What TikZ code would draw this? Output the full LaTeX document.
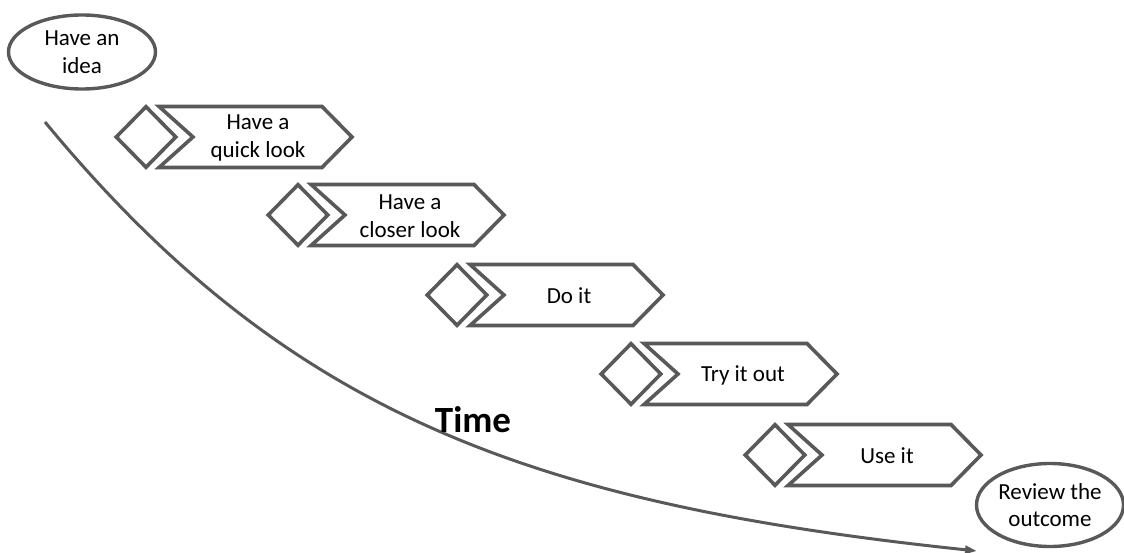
\documentclass[tikz,border=0pt]{standalone}
\usepackage{fontspec}
\setmainfont{Carlito}
\usetikzlibrary{arrows.meta,shapes.geometric}
\definecolor{outline}{RGB}{89,89,89}
\begin{document}
\begin{tikzpicture}[x=1pt,y=-1pt,
  shape line/.style={draw=outline,line width=3.6pt,line join=miter},
  bubble/.style={ellipse,draw=outline,line width=3.4pt,inner sep=0pt,
    align=center,font=\fontsize{23}{27.5}\selectfont},
  gem/.style={diamond,shape line,minimum width=61pt,minimum height=62pt,inner sep=0pt},
  steplabel/.style={align=center,font=\fontsize{23}{27.5}\selectfont,inner sep=0pt},
  timeline/.style={draw=outline,line width=3pt,-{Triangle[length=12pt,width=8pt]}}]
\useasboundingbox (0,0) rectangle (1124,553);

% start and end of the process
\node[bubble,minimum width=147pt,minimum height=74pt] (idea) at (82,52) {Have an\\idea};
\node[bubble,minimum width=147pt,minimum height=83pt] (review) at (1050,505) {Review the\\outcome};

% the five stages: a diamond followed by a chevron
\foreach \L/\C/\txt [count=\i] in {159/137/{Have a\\quick look},
                                   311/215/{Have a\\closer look},
                                   470/295/{Do it},
                                   644/374/{Try it out},
                                   788/455/{Use it}} {
  \node[gem] (gem\i) at (\L-13,\C) {};
  \draw[shape line] (\L,\C-30.5) -- (\L+163,\C-30.5) -- (\L+193,\C)
        -- (\L+163,\C+30.5) -- (\L,\C+30.5) -- (\L+34,\C) -- cycle;
  \node[steplabel] (step\i) at (\L+99,\C+1) {\txt};
}

% time axis
\coordinate (tstart) at (45,122);
\coordinate (tend) at (977,551);
\draw[timeline] (tstart) .. controls (287,415) and (531,504) .. (tend);
\node[font=\bfseries\fontsize{37}{44}\selectfont,inner sep=0pt] (time) at (473,420) {Time};
\end{tikzpicture}
\end{document}
